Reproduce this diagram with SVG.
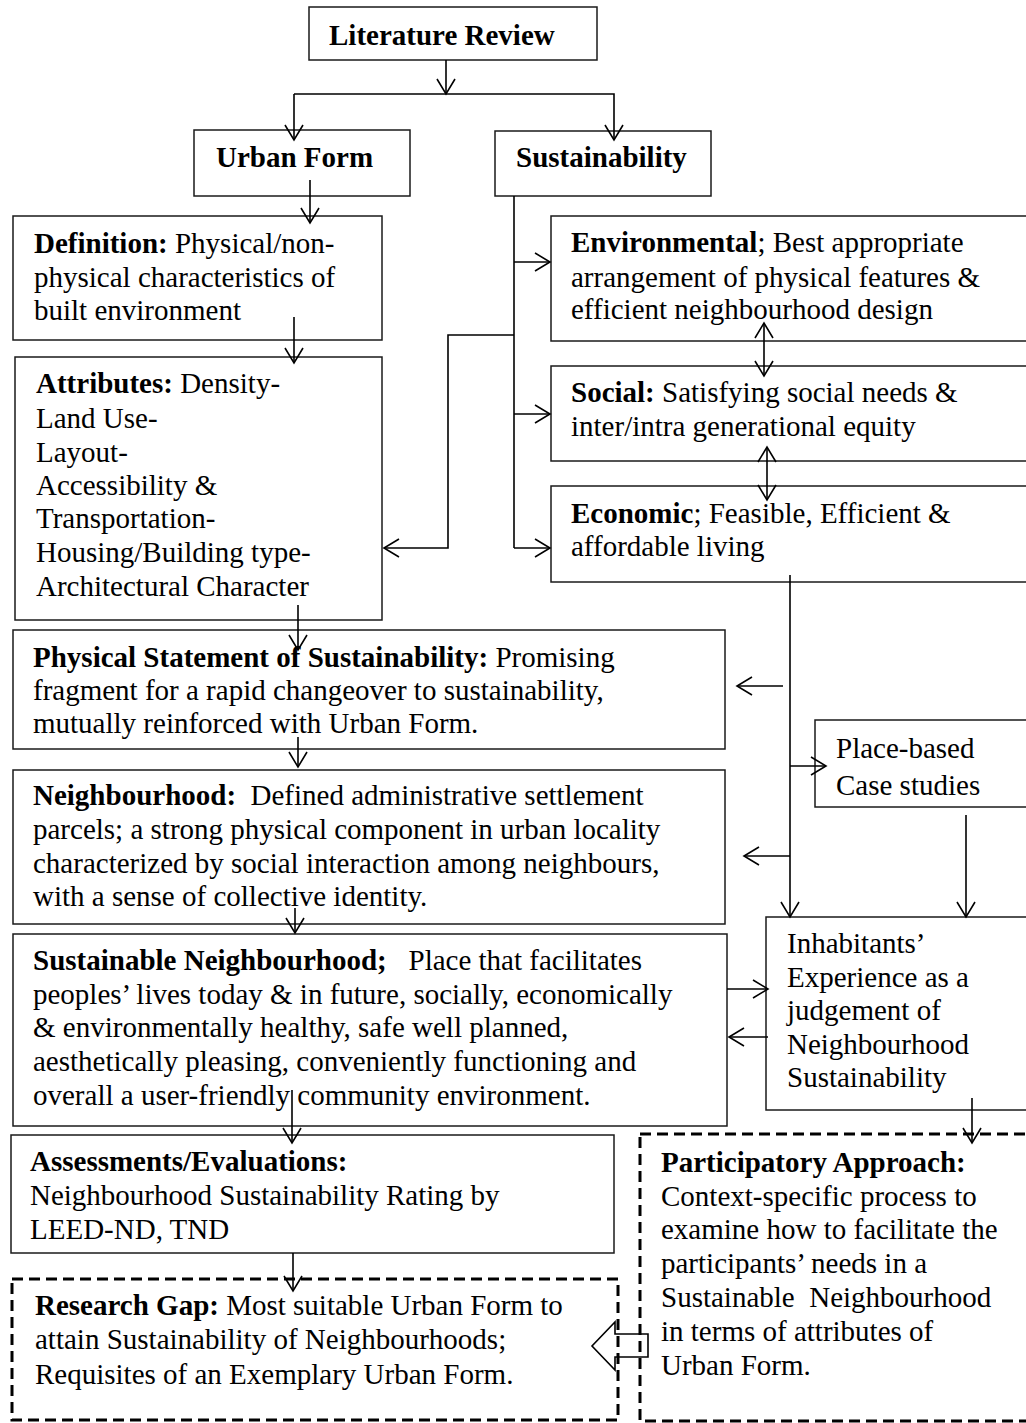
<svg xmlns="http://www.w3.org/2000/svg" width="1026" height="1423" viewBox="0 0 1026 1423">
  <style>
    text { font-family: "Liberation Serif", "Times New Roman", serif; font-size: 29px; fill: #000; white-space: pre; }
    .b { font-weight: bold; }
    .box { fill: #fff; stroke: #1a1a1a; stroke-width: 1.5; }
    .dash { fill: #fff; stroke: #000; stroke-width: 3; stroke-dasharray: 11 6; }
    .ln { fill: none; stroke: #000; stroke-width: 1.6; }
    .arr { marker-end: url(#ah); }
    .dbl { marker-start: url(#ah); marker-end: url(#ah); }
  </style>
  <defs>
    <marker id="ah" viewBox="-17 -11 19 22" refX="0" refY="0" markerWidth="19" markerHeight="22" markerUnits="userSpaceOnUse" orient="auto-start-reverse">
      <path d="M-15,-9 L0,0 L-15,9" fill="none" stroke="#000" stroke-width="1.6"/>
    </marker>
  </defs>
  <rect width="1026" height="1423" fill="#fff"/>

  <!-- boxes -->
  <g id="literature-review">
    <rect class="box" x="309" y="7" width="288" height="53"/>
    <text class="b" x="329" y="45">Literature Review</text>
  </g>
  <g id="urban-form">
    <rect class="box" x="194" y="130" width="216" height="66"/>
    <text class="b" x="216" y="167">Urban Form</text>
  </g>
  <g id="sustainability">
    <rect class="box" x="495" y="131" width="216" height="65"/>
    <text class="b" x="516" y="167">Sustainability</text>
  </g>
  <g id="definition">
    <rect class="box" x="13" y="216" width="369" height="124"/>
    <text x="34" y="253"><tspan class="b">Definition:</tspan> Physical/non-</text>
    <text x="34" y="287">physical characteristics of</text>
    <text x="34" y="320">built environment</text>
  </g>
  <g id="attributes">
    <rect class="box" x="15" y="357" width="367" height="263"/>
    <text x="36" y="393"><tspan class="b">Attributes:</tspan> Density-</text>
    <text x="36" y="428">Land Use-</text>
    <text x="36" y="462">Layout-</text>
    <text x="36" y="495">Accessibility &amp;</text>
    <text x="36" y="528">Transportation-</text>
    <text x="36" y="562">Housing/Building type-</text>
    <text x="36" y="596">Architectural Character</text>
  </g>
  <g id="environmental">
    <rect class="box" x="551" y="216" width="490" height="125"/>
    <text x="571" y="252"><tspan class="b">Environmental</tspan>; Best appropriate</text>
    <text x="571" y="287">arrangement of physical features &amp;</text>
    <text x="571" y="319">efficient neighbourhood design</text>
  </g>
  <g id="social">
    <rect class="box" x="551" y="366" width="490" height="95"/>
    <text x="571" y="402"><tspan class="b">Social:</tspan> Satisfying social needs &amp;</text>
    <text x="571" y="436">inter/intra generational equity</text>
  </g>
  <g id="economic">
    <rect class="box" x="551" y="486" width="490" height="96"/>
    <text x="571" y="523"><tspan class="b">Economic</tspan>; Feasible, Efficient &amp;</text>
    <text x="571" y="556">affordable living</text>
  </g>
  <g id="physical-statement">
    <rect class="box" x="13" y="630" width="712" height="119"/>
    <text x="33" y="667"><tspan class="b">Physical Statement of Sustainability:</tspan> Promising</text>
    <text x="33" y="700">fragment for a rapid changeover to sustainability,</text>
    <text x="33" y="733">mutually reinforced with Urban Form.</text>
  </g>
  <g id="neighbourhood">
    <rect class="box" x="13" y="770" width="712" height="154"/>
    <text x="33" y="805"><tspan class="b">Neighbourhood:</tspan>  Defined administrative settlement</text>
    <text x="33" y="839">parcels; a strong physical component in urban locality</text>
    <text x="33" y="873">characterized by social interaction among neighbours,</text>
    <text x="33" y="906">with a sense of collective identity.</text>
  </g>
  <g id="sustainable-neighbourhood">
    <rect class="box" x="13" y="934" width="714" height="192"/>
    <text x="33" y="970"><tspan class="b">Sustainable Neighbourhood;</tspan>   Place that facilitates</text>
    <text x="33" y="1004">peoples’ lives today &amp; in future, socially, economically</text>
    <text x="33" y="1037">&amp; environmentally healthy, safe well planned,</text>
    <text x="33" y="1071">aesthetically pleasing, conveniently functioning and</text>
    <text x="33" y="1105">overall a user-friendly community environment.</text>
  </g>
  <g id="assessments">
    <rect class="box" x="11" y="1135" width="603" height="118"/>
    <text class="b" x="30" y="1171">Assessments/Evaluations:</text>
    <text x="30" y="1205">Neighbourhood Sustainability Rating by</text>
    <text x="30" y="1239">LEED-ND, TND</text>
  </g>
  <g id="research-gap">
    <rect class="dash" x="12" y="1279" width="606" height="141"/>
    <text x="35" y="1315"><tspan class="b">Research Gap:</tspan> Most suitable Urban Form to</text>
    <text x="35" y="1349">attain Sustainability of Neighbourhoods;</text>
    <text x="35" y="1384">Requisites of an Exemplary Urban Form.</text>
  </g>
  <g id="place-based">
    <rect class="box" x="815" y="720" width="226" height="87"/>
    <text x="836" y="758">Place-based</text>
    <text x="836" y="795">Case studies</text>
  </g>
  <g id="inhabitants">
    <rect class="box" x="766" y="917" width="275" height="193"/>
    <text x="787" y="953">Inhabitants’</text>
    <text x="787" y="987">Experience as a</text>
    <text x="787" y="1020">judgement of</text>
    <text x="787" y="1054">Neighbourhood</text>
    <text x="787" y="1087">Sustainability</text>
  </g>
  <g id="participatory">
    <rect class="dash" x="640" y="1134" width="400" height="287"/>
    <text class="b" x="661" y="1172">Participatory Approach:</text>
    <text x="661" y="1206">Context-specific process to</text>
    <text x="661" y="1239">examine how to facilitate the</text>
    <text x="661" y="1273">participants’ needs in a</text>
    <text x="661" y="1307">Sustainable  Neighbourhood</text>
    <text x="661" y="1341">in terms of attributes of</text>
    <text x="661" y="1375">Urban Form.</text>
  </g>

  <!-- connectors -->
  <g id="connectors">
    <line class="ln arr" x1="446" y1="60" x2="446" y2="94"/>
    <polyline class="ln arr" points="294,94 614,94 614,140"/>
    <line class="ln arr" x1="294" y1="94" x2="294" y2="140"/>
    <line class="ln arr" x1="310" y1="180" x2="310" y2="223"/>
    <line class="ln arr" x1="294" y1="317" x2="294" y2="363"/>
    <line class="ln arr" x1="298" y1="605" x2="298" y2="650"/>
    <line class="ln arr" x1="298" y1="737" x2="298" y2="767"/>
    <line class="ln arr" x1="295" y1="908" x2="295" y2="933"/>
    <line class="ln arr" x1="292" y1="1090" x2="292" y2="1143"/>
    <line class="ln arr" x1="293" y1="1253" x2="293" y2="1291"/>

    <!-- sustainability trunk and branches -->
    <line class="ln" x1="514" y1="196" x2="514" y2="548"/>
    <line class="ln arr" x1="514" y1="262" x2="550" y2="262"/>
    <line class="ln arr" x1="514" y1="414" x2="550" y2="414"/>
    <line class="ln arr" x1="514" y1="548" x2="550" y2="548"/>
    <polyline class="ln arr" points="514,335 448,335 448,548 384,548"/>

    <!-- links between the three pillars -->
    <line class="ln dbl" x1="764" y1="323" x2="764" y2="376"/>
    <line class="ln dbl" x1="767" y1="447" x2="767" y2="500"/>

    <!-- economic trunk on the right -->
    <line class="ln arr" x1="790" y1="575" x2="790" y2="917"/>
    <line class="ln arr" x1="783" y1="686" x2="737" y2="686"/>
    <line class="ln arr" x1="790" y1="766" x2="826" y2="766"/>
    <line class="ln arr" x1="790" y1="856" x2="744" y2="856"/>
    <line class="ln arr" x1="966" y1="815" x2="966" y2="917"/>

    <line class="ln arr" x1="727" y1="989" x2="768" y2="989"/>
    <line class="ln arr" x1="768" y1="1037" x2="729" y2="1037"/>
    <line class="ln arr" x1="972" y1="1098" x2="972" y2="1143"/>

    <!-- block arrow from participatory approach to research gap -->
    <polygon points="648,1334 615,1334 615,1322 592,1346 615,1370 615,1357 648,1357" fill="none" stroke="#000" stroke-width="1.6"/>
  </g>
</svg>
